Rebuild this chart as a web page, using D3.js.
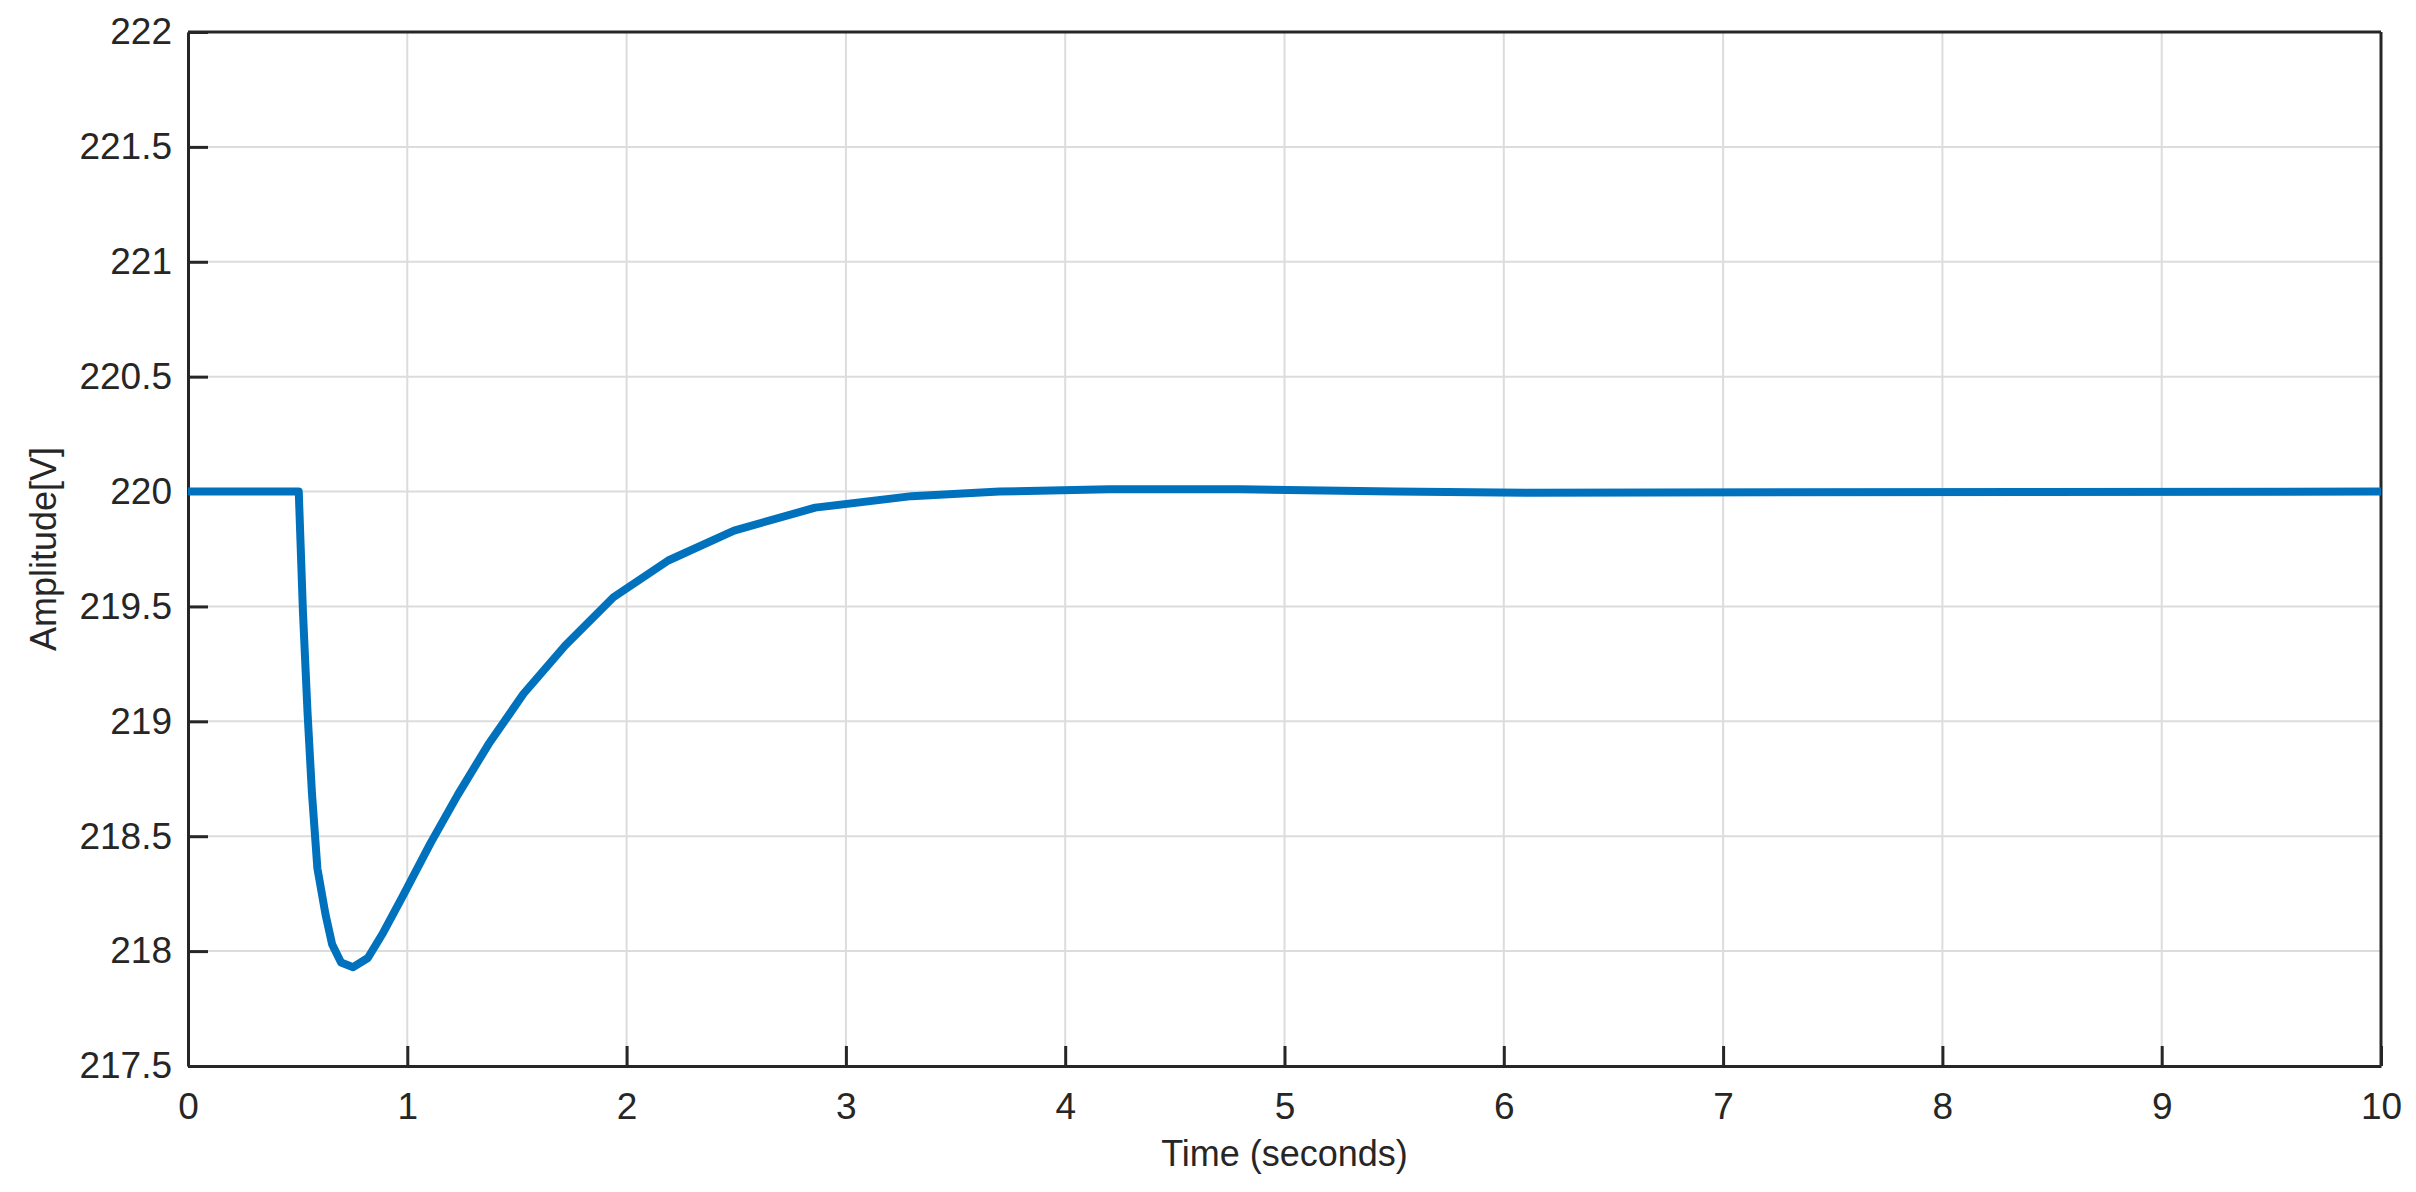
<!DOCTYPE html>
<html>
<head>
<meta charset="utf-8">
<script src="https://cdn.jsdelivr.net/npm/d3@7"></script>
<style>
  body { margin: 0; background: #fff; }
  text { font-family: "Liberation Sans", Arial, sans-serif; fill: #262626; }
</style>
</head>
<body>
<svg id="chart" width="2416" height="1192"></svg>
<script>
// time (s) and voltage (V)
const times = [0, 0.5, 0.505, 0.524, 0.545, 0.565, 0.59, 0.627, 0.657, 0.698, 0.753, 0.82, 0.89, 0.98,
  1.106, 1.23, 1.37, 1.53, 1.72, 1.94, 2.19, 2.49, 2.86, 3.3, 3.7, 4.2, 4.8, 5.5, 6.1, 10];
const volts = [220, 220, 220, 219.48, 219.04, 218.69, 218.36, 218.16, 218.03, 217.95, 217.93, 217.97, 218.08, 218.24,
  218.47, 218.68, 218.90, 219.12, 219.33, 219.54, 219.70, 219.83, 219.93, 219.98, 220.0, 220.01, 220.01, 220.0, 219.995, 220];
const xTicks = [0, 1, 2, 3, 4, 5, 6, 7, 8, 9, 10];
const yTicks = [217.5, 218, 218.5, 219, 219.5, 220, 220.5, 221, 221.5, 222];

const m = { left: 188, right: 2381, top: 32, bottom: 1066 };
const svg = d3.select('#chart');

const x = d3.scaleLinear().domain([0, 10]).range([m.left, m.right]);
const y = d3.scaleLinear().domain([217.5, 222]).range([m.bottom, m.top]);

// grid
svg.append('g').selectAll('line').data(xTicks).join('line')
  .attr('x1', d => x(d)).attr('x2', d => x(d))
  .attr('y1', m.top).attr('y2', m.bottom)
  .attr('stroke', '#dcdcdc').attr('stroke-width', 2);
svg.append('g').selectAll('line').data(yTicks).join('line')
  .attr('y1', d => y(d)).attr('y2', d => y(d))
  .attr('x1', m.left).attr('x2', m.right)
  .attr('stroke', '#dcdcdc').attr('stroke-width', 2);

// axes
const xAxis = svg.append('g').attr('transform', `translate(0,${m.bottom})`)
  .call(d3.axisBottom(x).tickValues(xTicks).tickFormat(d3.format('d')).tickSizeInner(-20).tickSizeOuter(0).tickPadding(22));
const yAxis = svg.append('g').attr('transform', `translate(${m.left},0)`)
  .call(d3.axisLeft(y).tickValues(yTicks).tickFormat(d => d).tickSizeInner(-20).tickSizeOuter(0).tickPadding(16));
[xAxis, yAxis].forEach(g => {
  g.select('.domain').attr('stroke', '#262626').attr('stroke-width', 3);
  g.selectAll('.tick line').attr('stroke', '#262626').attr('stroke-width', 3);
  g.selectAll('.tick text').attr('font-size', 37).attr('fill', '#262626');
});
xAxis.selectAll('.tick text').attr('dy', '0.85em');

// top and right box
svg.append('line').attr('x1', m.left).attr('x2', m.right).attr('y1', m.top).attr('y2', m.top)
  .attr('stroke', '#262626').attr('stroke-width', 3);
svg.append('line').attr('x1', m.right).attr('x2', m.right).attr('y1', m.top).attr('y2', m.bottom)
  .attr('stroke', '#262626').attr('stroke-width', 3);

// curve
const pts = times.map((t, i) => [t, volts[i]]);
svg.append('path').datum(pts)
  .attr('fill', 'none').attr('stroke', '#0072BD').attr('stroke-width', 8)
  .attr('stroke-linejoin', 'round')
  .attr('d', d3.line().x(d => x(d[0])).y(d => y(d[1])));

// labels
svg.append('text').attr('x', (m.left + m.right) / 2).attr('y', 1166)
  .attr('text-anchor', 'middle').attr('font-size', 36).text('Time (seconds)');
svg.append('text').attr('transform', `translate(56,${(m.top + m.bottom) / 2}) rotate(-90)`)
  .attr('text-anchor', 'middle').attr('font-size', 36).text('Amplitude[V]');
</script>
</body>
</html>
